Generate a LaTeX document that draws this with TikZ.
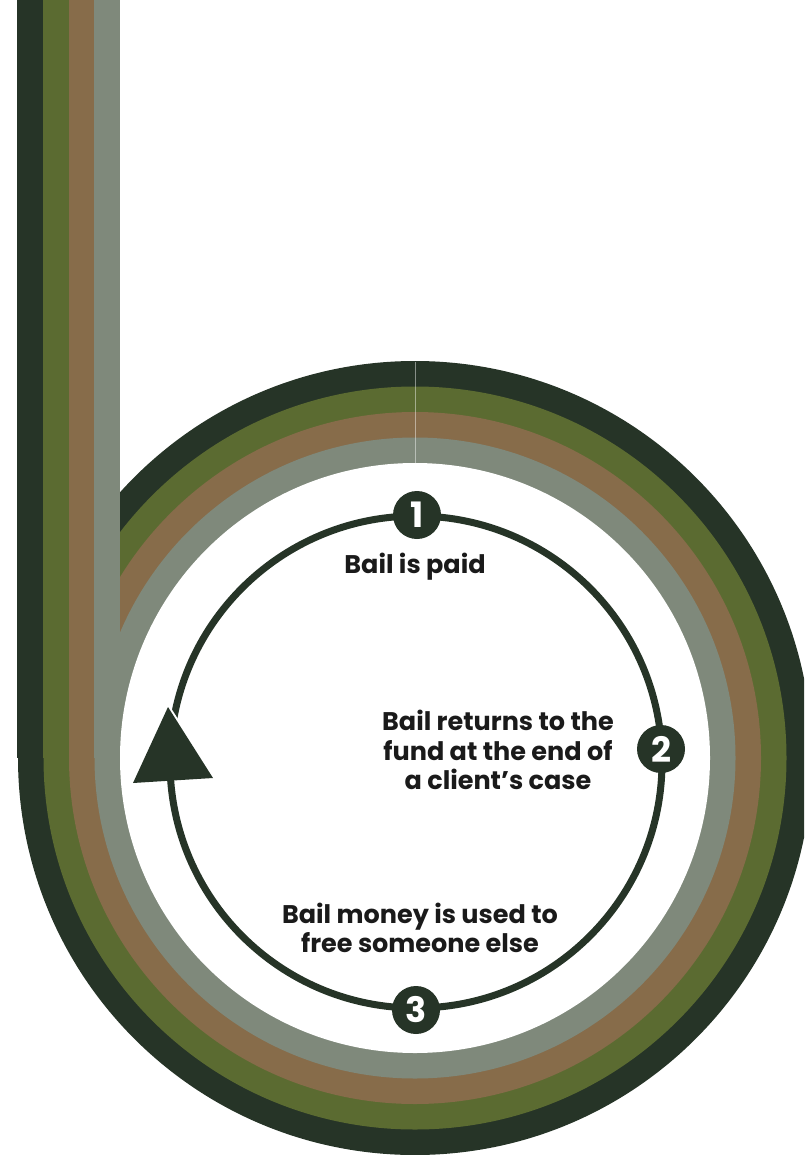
\documentclass[tikz,border=0pt]{standalone}
\usepackage{fontspec}
\setmainfont{Poppins}
\definecolor{cdark}{HTML}{263427}
\definecolor{colive}{HTML}{5B6B31}
\definecolor{cbrown}{HTML}{876C4A}
\definecolor{cgray}{HTML}{7F897B}
\definecolor{ctext}{HTML}{1A1A1A}
\tikzset{
  numnode/.style={circle, fill=cdark, minimum size=48pt, inner sep=0pt, text=white, font=\fontsize{35}{35}\selectfont\bfseries},
  labeltext/.style={align=center, text=ctext, font=\fontsize{25.5}{29.5}\selectfont\bfseries},
  cycleline/.style={draw=cdark, line width=7pt}
}
\begin{document}
\begin{tikzpicture}[x=1pt,y=-1pt]
\useasboundingbox (0,0) rectangle (804,1155);
\begin{scope}
\clip (0,0) rectangle (804,1155);
% ring
\fill[cdark] (415,758) circle[radius=397pt];
\fill[colive] (415,758) circle[radius=371.5pt];
\fill[cbrown] (415,758) circle[radius=346pt];
\fill[cgray] (415,758) circle[radius=320.5pt];
\fill[white] (415,758) circle[radius=295pt];
\draw[white, opacity=0.45, line width=0.8pt] (415,362) -- (415,465);
% stem
\fill[cdark] (17,0) rectangle (43,758);
\fill[colive] (43,0) rectangle (68.5,758);
\fill[cbrown] (68.5,0) rectangle (94,758);
\fill[cgray] (94,0) rectangle (120,758);
\end{scope}
% cycle
\coordinate (c) at (416,762);
\draw[cycleline] (c) circle[radius=246pt];
\coordinate (tip) at (168,707);
\coordinate (bl) at (133,783);
\coordinate (br) at (213,778);
\draw[white, line width=4pt, line join=miter] (bl) -- (tip) -- (br);
\fill[cdark] (tip) -- (bl) -- (br) -- cycle;
\node[numnode] (n1) at (417,515) {1};
\node[numnode] (n2) at (661,749) {2};
\node[numnode] (n3) at (416,1010) {3};
\node[labeltext] (l1) at (415,567) {Bail is paid};
\node[labeltext] (l2) at (498,750) {Bail returns to the\\fund at the end of\\a client’s case};
\node[labeltext] (l3) at (420,928) {Bail money is used to\\free someone else};
\end{tikzpicture}
\end{document}
